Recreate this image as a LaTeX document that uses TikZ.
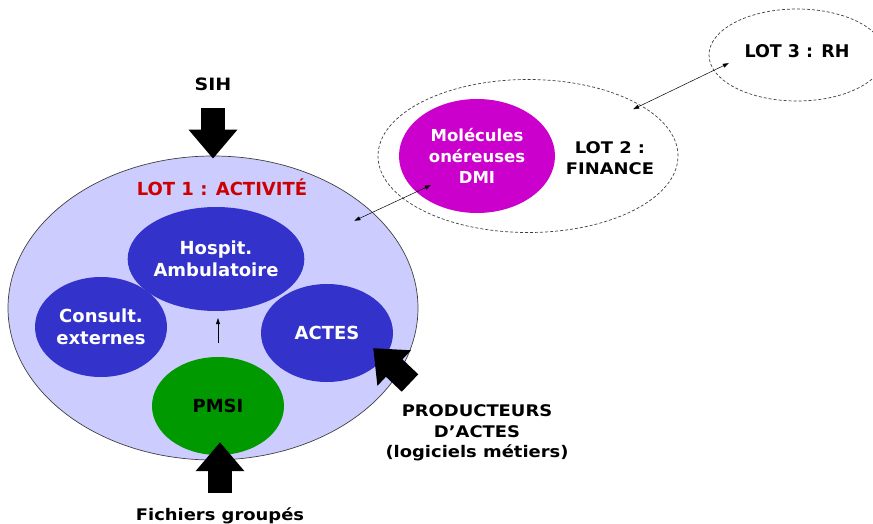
\documentclass[tikz,border=0pt]{standalone}
\usepackage{fontspec}
\setmainfont{DejaVu Sans}
\newfontfamily\titrefont{DejaVu Sans}[FakeStretch=1.12]
\usetikzlibrary{shapes.geometric, arrows.meta}

\definecolor{lavande}{HTML}{CCCCFF}
\definecolor{bleu}{HTML}{3333CC}
\definecolor{vert}{HTML}{009900}
\definecolor{violet}{HTML}{CC00CC}
\definecolor{rouge}{HTML}{CC0000}

\begin{document}
\begin{tikzpicture}[x=1pt, y=-1pt,
  lot/.style={ellipse, draw=black!75, dash pattern=on 3pt off 2pt, line width=0.7pt, inner sep=0pt},
  bulle/.style={ellipse, fill=bleu, text=white, inner sep=0pt, align=center, font=\bfseries\fontsize{18}{22}\selectfont},
  titre/.style={inner sep=2pt, align=center, font=\titrefont\bfseries\fontsize{16}{20.5}\selectfont},
  fat/.style={line width=24pt, -{Triangle[length=29pt,width=47pt]}},
  fin/.style={line width=0.5pt, {Triangle[length=6pt,width=4pt]}-{Triangle[length=6pt,width=4pt]}}
]

\useasboundingbox (0,0) rectangle (873,524);

% lot 1
\node (lot1) at (213,308) [ellipse, draw=black!75, line width=0.7pt, fill=lavande, minimum width=410pt, minimum height=304pt, inner sep=0pt] {};
\node (titre1) at (222,195) [titre, anchor=base, text=rouge, font=\bfseries\fontsize{18}{22}\selectfont] {LOT 1 : ACTIVITÉ};

\node (hosp) at (216,259) [bulle, minimum width=144pt, minimum height=104pt] {Hospit.\\Ambulatoire};
\node (consult) at (101,327) [bulle, minimum width=132pt, minimum height=100pt] {Consult.\\externes};
\node (actes) at (327,333) [bulle, minimum width=132pt, minimum height=98pt] {ACTES};
\node (pmsi) at (218,406) [bulle, fill=vert, text=black, minimum width=132pt, minimum height=98pt] {PMSI};

% lot 2 et lot 3
\node (lot2) at (528,156) [lot, minimum width=300pt, minimum height=153pt] {};
\node (mol) at (477,156) [bulle, fill=violet, minimum width=156pt, minimum height=114pt, font=\bfseries\fontsize{16.5}{21}\selectfont] {Molécules\\onéreuses\\DMI};
\node (titre2) at (610,158) [titre] {LOT 2 :\\FINANCE};

\node (lot3) at (797,55) [lot, minimum width=176pt, minimum height=92pt] {};
\node (titre3) at (797,58) [titre, anchor=base, font=\bfseries\fontsize{17.5}{21}\selectfont] {LOT 3 : RH};

% entrees
\node (sih) at (213,91) [titre, anchor=base, font=\titrefont\bfseries\fontsize{17}{21}\selectfont] {SIH};
\node (fich) at (220,520) [titre, anchor=base] {Fichiers groupés};
\node (prod) at (477,433) [titre] {PRODUCTEURS\\D’ACTES\\(logiciels métiers)};
\coordinate (prodtail) at (410,383);

\draw[fat, shorten <=15pt, shorten >=-3pt] (sih.south) -- (lot1.north);
\draw[fat, shorten <=12.5pt, shorten >=-13pt] (fich.north) -- (fich.north |- pmsi.south);
\draw[fat] (prodtail) -- ([xshift=-14.5pt,yshift=4.6pt]actes.-18);

\draw[-{Triangle[length=6pt,width=4pt]}, line width=0.5pt, shorten <=14pt, shorten >=7pt] (pmsi.north) -- (pmsi.north |- hosp.south);

\draw[fin] ([xshift=-15.7pt,yshift=-10.9pt]lot1.32) -- ([xshift=13.3pt,yshift=8pt]mol.212);
\draw[fin] ([xshift=-8.2pt,yshift=-3.7pt]lot2.24) -- ([xshift=17.8pt,yshift=2.4pt]lot3.187.6);

\end{tikzpicture}
\end{document}
